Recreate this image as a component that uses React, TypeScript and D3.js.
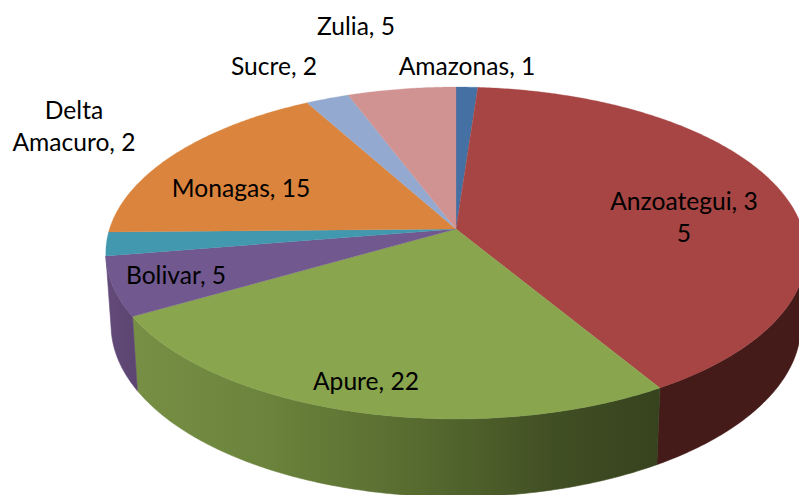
import React from 'react';
import * as d3 from 'd3';

const states = ['Amazonas', 'Anzoategui', 'Apure', 'Bolivar', 'Delta Amacuro', 'Monagas', 'Sucre', 'Zulia'];
const counts = [1, 35, 22, 5, 2, 15, 2, 5];
const topColors = ['#4470a3', '#a64543', '#89a54e', '#71588f', '#4198af', '#db843d', '#93a9cf', '#d19392'];

const width = 799;
const height = 495;

// the pie is tilted, so the rim goes through a small perspective projection
const cx = 456;
const cy = 229;
const rx = 346.5;
const ry = 162.5;
const tilt = 0.1446;
const depthY = 71;
const lowerScaleX = 0.985;
const lowerScaleY = 1.036;

const project = (a: number, lower = false): [number, number] => {
  const u = Math.sin(a);
  const v = -Math.cos(a);
  const w = 1 - tilt * v;
  const sx = lower ? lowerScaleX : 1;
  const sy = lower ? lowerScaleY : 1;
  return [cx + (sx * rx * u) / w, cy + (lower ? depthY : 0) + (sy * ry * v) / w];
};

const rad = d3.scaleLinear().domain([0, 360]).range([0, 2 * Math.PI]);
const line = d3.line();

const rim = (a0: number, a1: number, lower = false) => {
  const n = Math.max(2, Math.ceil(Math.abs(a1 - a0) / 0.01));
  return d3.range(n + 1).map((i) => project(a0 + ((a1 - a0) * i) / n, lower));
};

const arcs = d3.pie<number>().sort(null).value((d) => d)(counts);

const topPath = (a0: number, a1: number) => line([[cx, cy], ...rim(a0, a1)]) + 'Z';
const wallPath = (a0: number, a1: number) => line([...rim(a0, a1), ...rim(a1, a0, true)]) + 'Z';

// side walls stop where the rim turns away from the viewer
const walls = [
  { a0: rad(99), a1: arcs[1].endAngle, fill: '#451b1a' },
  { a0: arcs[2].startAngle, a1: arcs[2].endAngle, fill: 'url(#apureSide)' },
  { a0: arcs[3].startAngle, a1: arcs[3].endAngle, fill: 'url(#bolivarSide)' },
];

const apureStops = [
  { at: 0, color: '#768f44' },
  { at: 0.25, color: '#6b833c' },
  { at: 0.55, color: '#566a2f' },
  { at: 0.8, color: '#414f24' },
  { at: 1, color: '#36431e' },
];

const labelLines = [
  ['Amazonas, 1'],
  ['Anzoategui, 3', '5'],
  ['Apure, 22'],
  ['Bolivar, 5'],
  ['Delta', 'Amacuro, 2'],
  ['Monagas, 15'],
  ['Sucre, 2'],
  ['Zulia, 5'],
];
const labelSpots = [
  [467, 75],
  [684, 210],
  [366, 390],
  [176, 284],
  [74, 119],
  [241, 197],
  [274, 75],
  [356, 35],
];
const lineGap = 32;

export default function App() {
  const [ax0] = project(arcs[2].endAngle, true);
  const [ax1] = project(arcs[2].startAngle, true);
  return (
    <svg
      width={width}
      height={height}
      viewBox={`0 0 ${width} ${height}`}
      style={{ position: 'absolute', left: 0, top: 0, background: '#fff' }}
    >
      <defs>
        <linearGradient id="apureSide" gradientUnits="userSpaceOnUse" x1={ax0} x2={ax1} y1={0} y2={0}>
          {apureStops.map((s) => (
            <stop key={s.at} offset={s.at} stopColor={s.color} />
          ))}
        </linearGradient>
        <linearGradient id="bolivarSide" x1={0} x2={1} y1={0} y2={0}>
          <stop offset={0} stopColor="#634a7a" />
          <stop offset={1} stopColor="#5c4571" />
        </linearGradient>
      </defs>
      {walls.map((w, i) => (
        <path key={i} d={wallPath(w.a0, w.a1)} fill={w.fill} stroke={w.fill} strokeWidth={0.6} />
      ))}
      {arcs.map((d, i) => (
        <path key={states[i]} d={topPath(d.startAngle, d.endAngle)} fill={topColors[i]} stroke={topColors[i]} strokeWidth={0.3} />
      ))}
      <g fontFamily="Lato, 'Open Sans', sans-serif" fontSize={24.6} fill="#000" textAnchor="middle">
        {labelLines.map((lines, i) => (
          <text key={states[i]} x={labelSpots[i][0]} y={labelSpots[i][1]}>
            {lines.map((t, j) => (
              <tspan key={j} x={labelSpots[i][0]} dy={j === 0 ? 0 : lineGap}>
                {t}
              </tspan>
            ))}
          </text>
        ))}
      </g>
    </svg>
  );
}
